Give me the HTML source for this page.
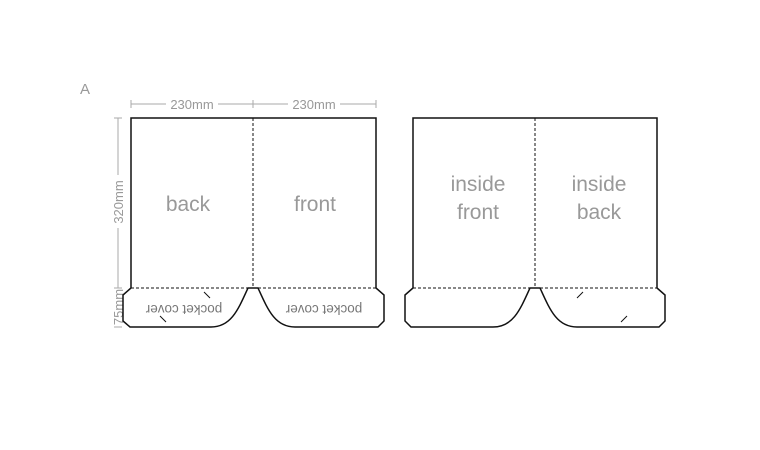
<!DOCTYPE html>
<html><head><style>body{margin:0;background:#fff}svg{display:block}</style></head><body>
<svg width="760" height="450" xmlns="http://www.w3.org/2000/svg" font-family="Liberation Sans, sans-serif">
<rect width="760" height="450" fill="#fff"/>
<text x="80" y="94" font-size="15" fill="#999">A</text>
<g stroke="#aaa" stroke-width="1" fill="none">
<line x1="131" y1="104" x2="166" y2="104"/><line x1="218" y1="104" x2="288" y2="104"/><line x1="340" y1="104" x2="376" y2="104"/>
<line x1="131" y1="100" x2="131" y2="108"/><line x1="253" y1="100" x2="253" y2="108"/><line x1="376" y1="100" x2="376" y2="108"/>
<line x1="118" y1="118" x2="118" y2="175"/><line x1="118" y1="228" x2="118" y2="288"/>
<line x1="114" y1="118" x2="122" y2="118"/><line x1="114" y1="288" x2="122" y2="288"/><line x1="114" y1="327" x2="122" y2="327"/>
</g>
<g fill="#999" font-size="13">
<text x="192" y="109" text-anchor="middle">230mm</text>
<text x="314" y="109" text-anchor="middle">230mm</text>
<text transform="translate(123,202) rotate(-90)" text-anchor="middle">320mm</text>
<text transform="translate(123,307) rotate(-90)" text-anchor="middle">75mm</text>
</g>
<g fill="none" stroke="#111" stroke-width="1.5">
<path d="M131,288 V118 H376 V288 L384,295 V321 L378,327 H295 C275,327 268,310 258,288 H248 C238,310 231,327 211,327 H130 L123,321 V295 Z"/>
<path d="M413,288 V118 H657 V288 L665,295 V321 L659,327 H577 C557,327 550,310 540,288 H530 C520,310 513,327 493,327 H411 L405,321 V295 Z"/>
</g>
<g stroke="#111" stroke-width="1" stroke-dasharray="3,2">
<line x1="253" y1="118" x2="253" y2="288"/><line x1="131" y1="288" x2="248" y2="288"/><line x1="258" y1="288" x2="376" y2="288"/>
<line x1="535" y1="118" x2="535" y2="288"/><line x1="413" y1="288" x2="530" y2="288"/><line x1="540" y1="288" x2="657" y2="288"/>
</g>
<g stroke="#111" stroke-width="1">
<line x1="204" y1="292" x2="210" y2="298"/><line x1="160" y1="316" x2="166" y2="322"/>
<line x1="577" y1="298" x2="583" y2="292"/><line x1="621" y1="322" x2="627" y2="316"/>
</g>
<g fill="#999" font-size="21" text-anchor="middle">
<text x="188" y="211">back</text><text x="315" y="211">front</text>
<text x="478" y="191">inside</text><text x="478" y="219">front</text>
<text x="599" y="191">inside</text><text x="599" y="219">back</text>
</g>
<g fill="#777" font-size="13.5" text-anchor="middle">
<text transform="translate(184,305) rotate(180)">pocket cover</text>
<text transform="translate(324,305) rotate(180)">pocket cover</text>
</g>
</svg>
</body></html>
